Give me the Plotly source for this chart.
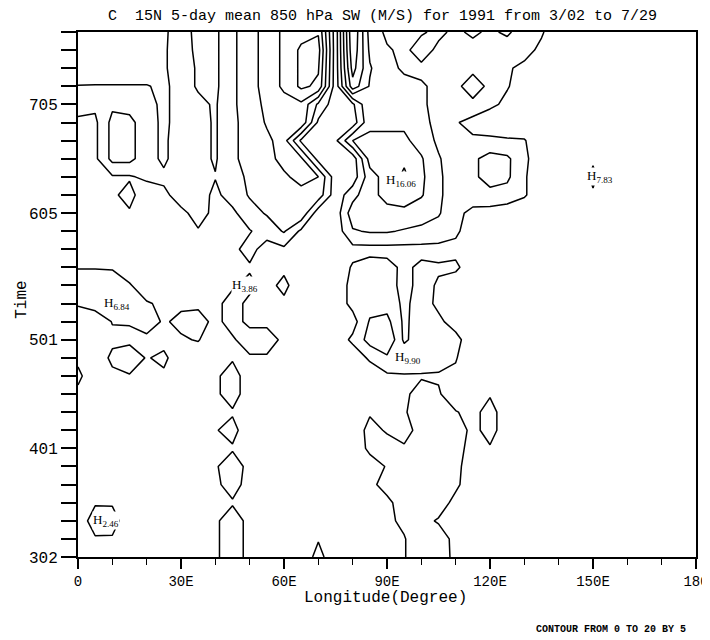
import plotly.graph_objects as go

# Longitude grid (degrees E) and pentad index (0 = 3/02 ... 29 = 7/25)
lon = [0, 5, 10, 15, 20, 25, 30, 35, 40, 45, 50, 55, 60, 65, 70, 75, 80, 85, 90,
       95, 100, 105, 110, 115, 120, 125, 130, 135, 140, 145, 150, 155, 160, 165, 170, 175, 180]
pentad = [0, 1, 2, 3, 4, 5, 6, 7, 8, 9, 10, 11, 12, 13, 14, 15, 16, 17, 18, 19,
          20, 21, 22, 23, 24, 25, 26, 27, 28, 29]

time_tick_pos = [0, 6, 12, 19, 25]
time_tick_text = ["302", "401", "501", "605", "705"]
lon_tick_pos = [0, 30, 60, 90, 120, 150, 180]
lon_tick_text = ["0", "30E", "60E", "90E", "120E", "150E", "180"]

# 850 hPa SW wind (m/s), one row per pentad, 37 longitudes each
sw_p00 = [-3,-3,-3,-3,-3,-3,-3,-3, -0.8,2.5,-1.5,-3,-3,-3,1.5,-3, -3,-3,-3,-0.3,3,3,-1.5,-3, -3,-3,-3,-3,-3,-3,-3,-3,-3,-3,-3,-3,-3]
sw_p01 = [-3,-0.5,-0.5,-3,-3,-3,-3,-3, -0.8,2.5,-1.5,-3,-3,-3,-0.3,-3, -3,-3,-3,-0.3,3,2.5,-1.5,-3, -3,-3,-3,-3,-3,-3,-3,-3,-3,-3,-3,-3,-3]
sw_p02 = [-3,2.4,2.0,-3,-3,-3,-3,-3, -0.8,2.5,-1.5,-3,-3,-3,-3,-3, -3,-3,-1,1,1.5,-0.5,-3,-3, -3,-3,-3,-3,-3,-3,-3,-3,-3,-3,-3,-3,-3]
sw_p03 = [-3,-0.5,-0.5,-3,-3,-3,-3,-3, -3,-0.5,-3,-3,-3,-3,-3,-3, -3,-3,-1,2,3,2.5,-1.5,-3, -3,-3,-3,-3,-3,-3,-3,-3,-3,-3,-3,-3,-3]
sw_p04 = [-3,-3,-3,-3,-3,-3,-3,-3, -1,2,-2,-3,-3,-3,-3,-3, -3,-1,1.5,3,3,2,1,-3, -3,-3,-3,-3,-3,-3,-3,-3,-3,-3,-3,-3,-3]
sw_p05 = [-3,-3,-3,-3,-3,-3,-3,-3, -0.5,2.5,-1.5,-3,-3,-3,-3,-3, -3,-2,0.3,2.5,2,1.5,1.5,-3, -3,-3,-3,-3,-3,-3,-3,-3,-3,-3,-3,-3,-3]
sw_p06 = [-3,-3,-3,-3,-3,-3,-3,-3, -3,-0.5,-3,-3,-3,-3,-3,-3, -3,1,2,0.5,0.2,1.5,2,-2, -0.5,-3,-3,-3,-3,-3,-3,-3,-3,-3,-3,-3,-3]
sw_p07 = [-3,-3,-3,-3,-3,-3,-3,-3, -0.3,1.5,-3,-3,-3,-3,-3,-3, -3,1.5,-0.5,-1.5,1.5,3,3,-1.5, 2,-3,-3,-3,-3,-3,-3,-3,-3,-3,-3,-3,-3]
sw_p08 = [-3,-3,-3,-3,-3,-3,-3,-3, -3,-0.5,-3,-3,-3,-3,-3,-3, -3,-0.5,-3,-0.5,2.5,3,0.3,-1.5, 2,-3,-3,-3,-3,-3,-3,-3,-3,-3,-3,-3,-3]
sw_p09 = [-1,-3,-3,-3,-3,-3,-3,-3, -0.8,2,-2.5,-3,-3,-3,-3,-3, -3,-3,-3,-1,2,0.5,-3,-3, -0.5,-3,-3,-3,-3,-3,-3,-3,-3,-3,-3,-3,-3]
sw_p10 = [1,-3,-1,-0.3,-3,-0.8,-3,-3, -0.8,2,-2.5,-3,-3,-3,-3,-3, -3,-3,-0.8,-0.5,-0.5,-0.5,-0.8,-3, -3,-3,-3,-3,-3,-3,-3,-3,-3,-3,-3,-3,-3]
sw_p11 = [-1,-3,1,2.5,-0.3,1.0,-3,-3, -3,-0.5,-0.5,-0.5,-3,-3,-3,-3, -3,0.8,4,4,3,2,0.3,-3, -3,-3,-3,-3,-3,-3,-3,-3,-3,-3,-3,-3,-3]
sw_p12 = [-3,-3,-1,-1,-1,-1.5,-0.5,0.3, -3,-0.5,2,2,-1,-3,-3,-3, 1,7,9.9,-1,3,3,1.5,-3, -3,-3,-3,-3,-3,-3,-3,-3,-3,-3,-3,-3,-3]
sw_p13 = [-3,-3,0.2,0.3,2,-0.5,1.0,1.5, -1,1.5,-1,-1,-3,-3,-3,-3, -2,5.5,6.5,-1,2.5,1,-2,-3, -3,-3,-3,-3,-3,-3,-3,-3,-3,-3,-3,-3,-3]
sw_p14 = [0.5,2,5.5,3.5,0.5,-1,-0.8,-0.8, -1,1.5,-1,-3,-1,-3,-3,-3, 1.5,3,3,-1,2,-1,-3,-3, -3,-3,-3,-3,-3,-3,-3,-3,-3,-3,-3,-3,-3]
sw_p15 = [2,3,3,0.5,-3,-3,-3,-3, -3,-0.5,1,-1.5,1.2,-3,-3,-3, 1.5,2.5,2,-1.5,1.5,-0.5,-3,-3, -3,-3,-3,-3,-3,-3,-3,-3,-3,-3,-3,-3,-3]
sw_p16 = [-0.2,-0.3,-0.5,-3,-3,-3,-3,-3, -3,-3,-0.5,-3,-1,-3,-3,-3, 0.5,2,1.5,-1,1,0.5,1,-3, -3,-3,-3,-3,-3,-3,-3,-3,-3,-3,-3,-3,-3]
sw_p17 = [-3,-3,-3,-3,-3,-3,-3,-3, -3,-1,1.5,-2,-1,-3,-3,-3, -1.5,-1.5,-1.5,-1.5,-1.5,-1.5,-1.5,-3, -3,-3,-3,-3,-3,-3,-3,-3,-3,-3,-3,-3,-3]
sw_p18 = [-3,-3,-3,-3,-3,-3,-3,-0.3, -3,-3,-0.3,2,5.5,-1,-3,-3, 4.5,5.5,5.5,4.5,4,3,1,-3, -3,-3,-3,-3,-3,-3,-3,-3,-3,-3,-3,-3,-3]
sw_p19 = [-3,-3,-3,-0.5,-3,-3,-1,1.5, -1,-1,3,5.5,8,9,-3,-3, 8,9,9,9,7,5.5,1.5,-1.5, -2,-3,-3,-3,-3,-3,-3,-3,-3,-3,-3,-3,-3]
sw_p20 = [-3,-3,-0.8,1.5,-3,-1,2,2, -1,2,5.5,7,9,9,8,-3, 3,9,11,12,10.5,6,2,3, 3.5,3,0.5,-3,-3,-3,-0.5,-3,-3,-3,-3,-3,-3]
sw_p21 = [-3,-1,-0.5,-0.5,1,1,3,2, 0.2,3,6,8,9.5,11,10,-3, -3,8,12,16,11,6,2,4, 7,6,0.5,-3,-3,-3,0.8,-3,-3,-3,-3,-3,-3]
sw_p22 = [-3,-1,6.5,6.5,2,-1,3,1.5, -0.5,4,7,9,11,11,-2,-3, -3,12,13,14,10.5,5.5,2,4, 7,6,1,-3,-3,-3,-0.5,-3,-3,-3,-3,-3,-3]
sw_p23 = [-3,-1,6.5,6.5,2,-1,3,1.5, -0.5,4,7,9,12,-1,-3,-1, 10,11,11,11,8,4,1,1, 1,0.5,0.3,-3,-3,-3,-3,-3,-3,-3,-3,-3,-3]
sw_p24 = [-1,-1,6.5,6.5,2,-1,2,1.5, -0.5,4,7,10.5,12,14,-1,-3, -3,9,9,9,7,3,0.5,-2, -3,-3,-3,-3,-3,-3,-3,-3,-3,-3,-3,-3,-3]
sw_p25 = [2,1,4,3,1.5,-1,2,1, -0.5,4,8,11,13,14,4,-3, -1,10,8,7,6,3,1.5,4, 1,-1,-3,-3,-3,-3,-3,-3,-3,-3,-3,-3,-3]
sw_p26 = [0.2,0.3,0.3,0.3,0.3,-1,2,-0.5, -1,4,8,12,16,21,19,-3, 18,9.5,7,6,5.5,4,4,7, 4,0.3,-2,-3,-3,-3,-3,-3,-3,-3,-3,-3,-3]
sw_p27 = [-3,-3,-3,-3,-3,-0.5,2,-0.5, -1,4,8,12,16,21,20.5,-3, 22,10.5,6,4.5,4,4,2.5,4, 1,0.5,-1,-3,-3,-3,-3,-3,-3,-3,-3,-3,-3]
sw_p28 = [-3,-3,-3,-3,-3,-0.5,2,-1, -1,4,8,12,16,21,22,-3, 24,9,5.5,4,7,4,3,3, 2,2,1.5,-1,-3,-3,-3,-3,-3,-3,-3,-3,-3]
sw_p29 = [-3,-3,-3,-3,-3,-0.5,1.5,-1, -1,4,8,12,16,18,19.5,-3, 25,8,4,4.5,4.5,6,4,6, 4,6,2,0.5,-3,-3,-3,-3,-3,-3,-3,-3,-3]

sw = [sw_p00, sw_p01, sw_p02, sw_p03, sw_p04, sw_p05, sw_p06, sw_p07, sw_p08, sw_p09,
      sw_p10, sw_p11, sw_p12, sw_p13, sw_p14, sw_p15, sw_p16, sw_p17, sw_p18, sw_p19,
      sw_p20, sw_p21, sw_p22, sw_p23, sw_p24, sw_p25, sw_p26, sw_p27, sw_p28, sw_p29]

# Labelled maxima
hi_lon = [8.2, 11.4, 48.6, 96.1, 94.1, 152.0]
hi_pentad = [2.0, 14.0, 15.0, 11.0, 20.8, 21.0]
hi_value = ["2.46", "6.84", "3.86", "9.90", "16.06", "7.83"]

MONO = "Liberation Mono"
SERIF = "Liberation Serif"

fig = go.Figure()
fig.add_trace(go.Contour(
    x=lon, y=pentad, z=sw,
    contours=dict(start=0, end=20, size=5, coloring="none"),
    line=dict(color="black", width=1.5, smoothing=0),
    showscale=False, hoverinfo="skip",
))

annotations = []
for lo, pe, val in zip(hi_lon, hi_pentad, hi_value):
    annotations.append(dict(
        x=lo, y=pe, xref="x", yref="y", showarrow=False,
        text="H<sub>" + val + "</sub>",
        font=dict(family=SERIF, size=13, color="black"),
        bgcolor="white", borderpad=0,
    ))

annotations += [
    dict(text="C  15N 5-day mean 850 hPa SW (M/S) for 1991 from 3/02 to 7/29",
         xref="paper", yref="paper", x=0.492, y=1.029, showarrow=False,
         xanchor="center", yanchor="middle",
         font=dict(family=MONO, size=15, color="black")),
    dict(text="Longitude(Degree)", xref="paper", yref="paper", x=0.498, y=-0.078,
         showarrow=False, xanchor="center", yanchor="middle",
         font=dict(family=MONO, size=16, color="black")),
    dict(text="Time", xref="paper", yref="paper", x=-0.0906, y=0.49, textangle=-90,
         showarrow=False, xanchor="center", yanchor="middle",
         font=dict(family=MONO, size=16, color="black")),
    dict(text="<b>CONTOUR FROM 0 TO 20 BY 5</b>", xref="paper", yref="paper",
         x=0.987, y=-0.139, showarrow=False, xanchor="right", yanchor="middle",
         font=dict(family=MONO, size=10, color="black")),
]

# the page body adds an 8 px offset, so the figure is 8 px smaller on each side
fig.update_layout(
    width=702, height=632,
    margin=dict(l=70, r=14, t=24, b=83, autoexpand=False),
    paper_bgcolor="white", plot_bgcolor="white",
    showlegend=False,
    annotations=annotations,
    xaxis=dict(
        range=[0, 180], tickvals=lon_tick_pos, ticktext=lon_tick_text,
        ticks="outside", ticklen=10, tickwidth=1.5, tickcolor="black",
        minor=dict(dtick=10, tick0=0, ticks="outside", ticklen=6, tickwidth=1.2, tickcolor="black"),
        showline=True, linewidth=2, linecolor="black", mirror=True,
        showgrid=False, zeroline=False, automargin=False,
        tickfont=dict(family=MONO, size=14, color="black"),
    ),
    yaxis=dict(
        range=[0, 29], tickvals=time_tick_pos, ticktext=time_tick_text,
        ticks="outside", ticklen=15, tickwidth=1.5, tickcolor="black",
        minor=dict(dtick=1, tick0=0, ticks="outside", ticklen=15, tickwidth=1.5, tickcolor="black"),
        showline=True, linewidth=2, linecolor="black", mirror=True,
        showgrid=False, zeroline=False, automargin=False,
        tickfont=dict(family=MONO, size=16, color="black"),
    ),
)

fig.write_html("out.html")
